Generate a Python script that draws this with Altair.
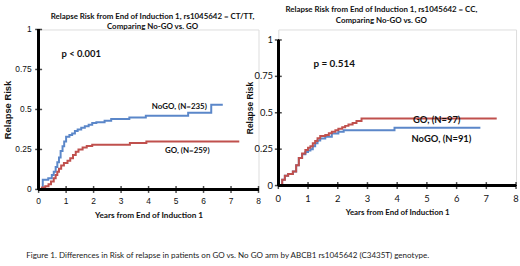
import altair as alt
import pandas as pd

# ---------------- data ----------------
left_nogo_t = [0, 0.15, 0.35, 0.48, 0.55, 0.62, 0.68, 0.74, 0.80, 0.87, 0.93, 1.00, 1.12, 1.22, 1.32, 1.42, 1.55, 1.68, 1.82, 1.95, 2.10, 2.40, 2.64, 3.30, 3.90, 5.44, 6.28, 6.70]
left_nogo_v = [0, 0.06, 0.07, 0.09, 0.11, 0.14, 0.17, 0.20, 0.24, 0.27, 0.30, 0.33, 0.34, 0.35, 0.365, 0.375, 0.385, 0.395, 0.405, 0.415, 0.42, 0.43, 0.44, 0.45, 0.46, 0.48, 0.53, 0.53]
left_go_t = [0, 0.12, 0.24, 0.36, 0.45, 0.55, 0.62, 0.68, 0.74, 0.82, 0.92, 1.05, 1.15, 1.25, 1.35, 1.45, 1.60, 1.75, 1.95, 3.32, 3.92, 7.30]
left_go_v = [0, 0.012, 0.02, 0.033, 0.05, 0.07, 0.09, 0.11, 0.13, 0.15, 0.165, 0.18, 0.195, 0.215, 0.235, 0.25, 0.262, 0.272, 0.28, 0.29, 0.30, 0.30]

right_go_t = [0, 0.13, 0.22, 0.33, 0.49, 0.60, 0.69, 0.80, 0.91, 1.00, 1.08, 1.16, 1.24, 1.32, 1.41, 1.58, 1.70, 1.80, 1.92, 2.02, 2.15, 2.25, 2.36, 2.50, 2.63, 2.80, 7.35]
right_go_v = [0, 0.04, 0.068, 0.08, 0.097, 0.14, 0.19, 0.22, 0.245, 0.26, 0.27, 0.29, 0.306, 0.325, 0.34, 0.347, 0.36, 0.37, 0.38, 0.39, 0.40, 0.41, 0.42, 0.43, 0.444, 0.46, 0.46]
right_nogo_t = [0, 0.13, 0.22, 0.33, 0.49, 0.60, 0.69, 0.80, 0.91, 1.00, 1.08, 1.16, 1.24, 1.32, 1.41, 1.58, 1.80, 2.02, 2.20, 3.91, 6.80]
right_nogo_v = [0, 0.04, 0.068, 0.08, 0.097, 0.14, 0.19, 0.215, 0.23, 0.24, 0.25, 0.27, 0.29, 0.31, 0.324, 0.335, 0.358, 0.37, 0.38, 0.397, 0.397]

x_ticks = [0, 1, 2, 3, 4, 5, 6, 7, 8]
x_tick_labels = ["0", "1", "2", "3", "4", "5", "6", "7", "8"]
y_ticks = [0, 0.25, 0.5, 0.75, 1]
y_tick_labels = ["0", "0.25", "0.5", "0.75", "1"]

left_title = ["Relapse Risk from End of Induction 1, rs1045642 = CT/TT,", "Comparing No-GO vs. GO"]
right_title = ["Relapse Risk from End of Induction 1, rs1045642 = CC,", "Comparing No-GO vs. GO"]
x_title = "Years from End of Induction 1"
y_title = "Relapse Risk"
caption = "Figure 1.  Differences in Risk of relapse in patients on GO vs. No GO arm by ABCB1 rs1045642 (C3435T) genotype."

left_labels = ["NoGO, (N=235)", "GO, (N=259)"]
left_label_t = [5.12, 5.41]
left_label_v = [0.516, 0.243]
left_p = "p < 0.001"
left_p_t, left_p_v = 1.55, 0.844

right_labels = ["GO, (N=97)", "NoGO, (N=91)"]
right_label_t = [5.33, 5.49]
right_label_v = [0.453, 0.317]
right_p = "p = 0.514"
right_p_t, right_p_v = 1.88, 0.832

series = ["NoGO", "GO"]
colors = ["#5b87c9", "#c0504d"]

CAL = "Lato"
ARIAL = "Liberation Sans"


def curves(nt, nv, gt, gv):
    return pd.concat([
        pd.DataFrame({"t": nt, "v": nv, "arm": "NoGO"}),
        pd.DataFrame({"t": gt, "v": gv, "arm": "GO"}),
    ])


def panel(df, ydom, width, height, title, title_offset, title_dx,
          tick_font, tick_size, xlab_dy, ylab_dx,
          xt_font, xt_size, xt_pad, yt_font, yt_size, yt_pad,
          labels, lt, lv, lsize, ptext, pt, pv, psize):
    xs = alt.Scale(domain=[0, 8], nice=False, zero=False)
    ys = alt.Scale(domain=ydom, nice=False, zero=False)
    base_axis = dict(grid=False, domain=False, ticks=False, labels=False, offset=0,
                     titleColor="#111", titleFontWeight="bold")
    x_enc = alt.X("t:Q", scale=xs, axis=alt.Axis(title=x_title, titleFont=xt_font,
                                                 titleFontSize=xt_size, titlePadding=xt_pad, **base_axis))
    y_enc = alt.Y("v:Q", scale=ys, axis=alt.Axis(title=y_title, titleFont=yt_font,
                                                 titleFontSize=yt_size, titlePadding=yt_pad, **base_axis))
    lines = alt.Chart(df).mark_line(interpolate="step-after", strokeWidth=2).encode(
        x=x_enc, y=y_enc,
        color=alt.Color("arm:N", scale=alt.Scale(domain=series, range=colors), legend=None),
        detail="arm:N",
    )
    # axis lines
    xaxis = alt.Chart(df).mark_rule(color="#000", strokeWidth=2).encode(
        x=alt.datum(0), x2=alt.datum(8), y=alt.datum(0))
    yaxis = alt.Chart(df).mark_rule(color="#000", strokeWidth=2).encode(
        x=alt.datum(0), y=alt.datum(0), y2=alt.datum(1))
    # crossing tick marks and tick labels
    xt = pd.DataFrame({"t": x_ticks, "lab": x_tick_labels})
    yt = pd.DataFrame({"v": y_ticks, "lab": y_tick_labels})
    xtick = alt.Chart(xt).mark_tick(orient="vertical", size=7, thickness=1.5, color="#000").encode(
        x=x_enc, y=alt.datum(0))
    ytick = alt.Chart(yt).mark_tick(orient="horizontal", size=7, thickness=1.5, color="#000").encode(
        y=y_enc, x=alt.datum(0))
    xlab = alt.Chart(xt).mark_text(font=tick_font, fontSize=tick_size, color="#111",
                                   baseline="middle", align="center", dy=xlab_dy).encode(
        x=x_enc, y=alt.datum(0), text="lab:N")
    ylab = alt.Chart(yt).mark_text(font=tick_font, fontSize=tick_size, color="#111",
                                   baseline="middle", align="right", dx=ylab_dx).encode(
        y=y_enc, x=alt.datum(0), text="lab:N")
    ldf = pd.DataFrame({"t": lt, "v": lv, "txt": labels})
    ltext = alt.Chart(ldf).mark_text(font=CAL, fontWeight="bold", fontSize=lsize, color="#111").encode(
        x=x_enc, y=y_enc, text="txt:N")
    pdf = pd.DataFrame({"t": [pt], "v": [pv], "txt": [ptext]})
    ptxt = alt.Chart(pdf).mark_text(font=CAL, fontWeight="bold", fontSize=psize, color="#111").encode(
        x=x_enc, y=y_enc, text="txt:N")
    return alt.layer(lines, xaxis, yaxis, xtick, ytick, xlab, ylab, ltext, ptxt).properties(
        width=width, height=height,
        title=alt.TitleParams(text=title, font=CAL, fontWeight="bold", fontSize=8,
                              color="#111", anchor="middle", offset=title_offset, dx=title_dx,
                              lineHeight=11),
    )


left = panel(curves(left_nogo_t, left_nogo_v, left_go_t, left_go_v), [0, 1], 222, 161.5,
             left_title, -6, 4, ARIAL, 8.5, 11.7, -7, CAL, 8.3, 21, ARIAL, 9.5, 26,
             left_labels, left_label_t, left_label_v, 8, left_p, left_p_t, left_p_v, 9.5)
right = panel(curves(right_nogo_t, right_nogo_v, right_go_t, right_go_v), [0, 1.072], 240, 157.6,
              right_title, 5, -16, CAL, 9.5, 14, -5.3, CAL, 8, 23, ARIAL, 8.5, 24.5,
              right_labels, right_label_t, right_label_v, 9.5, right_p, right_p_t, right_p_v, 10)

chart = alt.hconcat(left, right, spacing=20, bounds="flush").properties(
    padding={"left": 2, "top": 3.5, "right": 0, "bottom": 0},
    title=alt.TitleParams(text=caption, orient="bottom", anchor="start", font=CAL,
                          fontSize=8.1, fontWeight="normal", color="#222", offset=33, dx=24),
).configure_view(strokeWidth=0, stroke="transparent").configure(background="white")

chart.save("out.html", embed_options={"renderer": "svg", "actions": False})
